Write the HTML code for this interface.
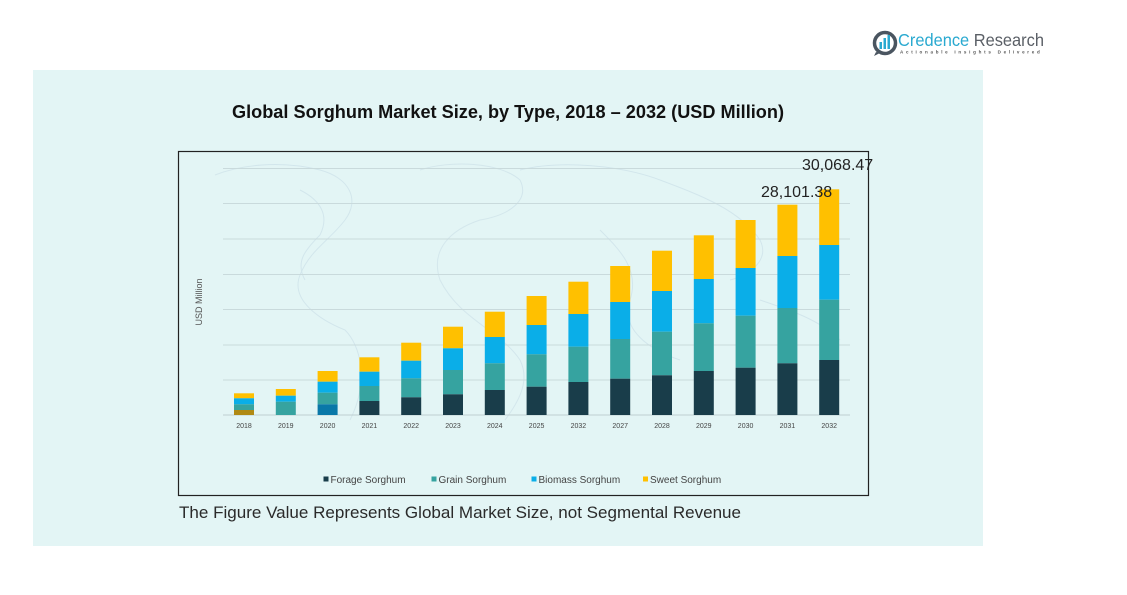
<!DOCTYPE html>
<html><head><meta charset="utf-8"><style>
html,body{margin:0;padding:0;background:#fff;}
svg{display:block;}
</style></head><body>
<svg width="1127" height="595" viewBox="0 0 1127 595" xmlns="http://www.w3.org/2000/svg" font-family="'Liberation Sans', sans-serif">
<rect x="0" y="0" width="1127" height="595" fill="#ffffff"/>
<rect x="33" y="70" width="950" height="476" fill="#e3f5f5"/>
<!-- faint map hints -->
<g fill="none" stroke="#cfe3ea" stroke-width="1" opacity="0.8">
<path d="M215 175 C240 165 280 160 320 170 C350 178 360 200 345 220 C330 240 310 250 300 275 C290 300 320 320 345 330 C360 345 370 380 350 420"/>
<path d="M300 190 C320 200 330 215 320 235 C305 250 295 262 305 280"/>
<path d="M420 170 C450 160 500 162 520 180 C530 200 510 215 480 220 C450 230 430 250 440 280 C460 320 500 330 520 360 C530 380 520 400 505 420"/>
<path d="M520 170 C560 160 620 165 660 180 C700 195 740 210 760 240 C770 260 750 275 730 280"/>
<path d="M600 230 C620 250 640 270 630 300 C620 330 650 350 680 360"/>
<path d="M760 300 C790 310 820 320 840 340"/>
</g>
<!-- title -->
<text x="508" y="118" text-anchor="middle" font-size="18" font-weight="bold" fill="#111" textLength="552" lengthAdjust="spacingAndGlyphs">Global Sorghum Market Size, by Type, 2018 – 2032 (USD Million)</text>
<!-- chart border -->
<rect x="178.5" y="151.5" width="690" height="344" fill="none" stroke="#222" stroke-width="1.2"/>
<!-- gridlines -->
<g stroke="#c9dadc" stroke-width="1">
<line x1="223" y1="168.5" x2="850" y2="168.5"/>
<line x1="223" y1="203.5" x2="850" y2="203.5"/>
<line x1="223" y1="239" x2="850" y2="239"/>
<line x1="223" y1="274.5" x2="850" y2="274.5"/>
<line x1="223" y1="309.5" x2="850" y2="309.5"/>
<line x1="223" y1="345" x2="850" y2="345"/>
<line x1="223" y1="380" x2="850" y2="380"/>
<line x1="223" y1="415" x2="850" y2="415" stroke="#bfcfd1"/>
</g>
<!-- y axis title -->
<text transform="translate(202,302) rotate(-90)" text-anchor="middle" font-size="9" fill="#555">USD Million</text>
<!-- bars -->
<g>
<!-- 2018 -->
<rect x="234" y="393.3" width="20" height="5" fill="#ffc000"/>
<rect x="234" y="398.3" width="20" height="6" fill="#0aaee8"/>
<rect x="234" y="404.3" width="20" height="5.7" fill="#36a3a0"/>
<rect x="234" y="410" width="20" height="5" fill="#b08a14"/>
<!-- 2019 -->
<rect x="275.8" y="389" width="20" height="6.7" fill="#ffc000"/>
<rect x="275.8" y="395.7" width="20" height="6" fill="#0aaee8"/>
<rect x="275.8" y="401.7" width="20" height="13.3" fill="#36a3a0"/>
<!-- 2020 -->
<rect x="317.6" y="371" width="20" height="10.7" fill="#ffc000"/>
<rect x="317.6" y="381.7" width="20" height="11" fill="#0aaee8"/>
<rect x="317.6" y="392.7" width="20" height="11.6" fill="#36a3a0"/>
<rect x="317.6" y="404.3" width="20" height="10.7" fill="#0a78a8"/>
<!-- 2021 -->
<rect x="359.4" y="357.3" width="20" height="14.4" fill="#ffc000"/>
<rect x="359.4" y="371.7" width="20" height="14.3" fill="#0aaee8"/>
<rect x="359.4" y="386" width="20" height="15" fill="#36a3a0"/>
<rect x="359.4" y="401" width="20" height="14" fill="#193d4a"/>
<!-- 2022 -->
<rect x="401.2" y="342.7" width="20" height="18" fill="#ffc000"/>
<rect x="401.2" y="360.7" width="20" height="17.6" fill="#0aaee8"/>
<rect x="401.2" y="378.3" width="20" height="19" fill="#36a3a0"/>
<rect x="401.2" y="397.3" width="20" height="17.7" fill="#193d4a"/>
<!-- 2023 -->
<rect x="443" y="326.7" width="20" height="21.6" fill="#ffc000"/>
<rect x="443" y="348.3" width="20" height="21.7" fill="#0aaee8"/>
<rect x="443" y="370" width="20" height="24.3" fill="#36a3a0"/>
<rect x="443" y="394.3" width="20" height="20.7" fill="#193d4a"/>
<!-- 2024 -->
<rect x="484.8" y="311.7" width="20" height="25.3" fill="#ffc000"/>
<rect x="484.8" y="337" width="20" height="26.3" fill="#0aaee8"/>
<rect x="484.8" y="363.3" width="20" height="26.7" fill="#36a3a0"/>
<rect x="484.8" y="390" width="20" height="25" fill="#193d4a"/>
<!-- 2025 -->
<rect x="526.6" y="296" width="20" height="29" fill="#ffc000"/>
<rect x="526.6" y="325" width="20" height="29.3" fill="#0aaee8"/>
<rect x="526.6" y="354.3" width="20" height="32.4" fill="#36a3a0"/>
<rect x="526.6" y="386.7" width="20" height="28.3" fill="#193d4a"/>
<!-- 2026 -->
<rect x="568.4" y="281.7" width="20" height="32.3" fill="#ffc000"/>
<rect x="568.4" y="314" width="20" height="32.7" fill="#0aaee8"/>
<rect x="568.4" y="346.7" width="20" height="35.3" fill="#36a3a0"/>
<rect x="568.4" y="382" width="20" height="33" fill="#193d4a"/>
<!-- 2027 -->
<rect x="610.2" y="266" width="20" height="36" fill="#ffc000"/>
<rect x="610.2" y="302" width="20" height="37" fill="#0aaee8"/>
<rect x="610.2" y="339" width="20" height="39.7" fill="#36a3a0"/>
<rect x="610.2" y="378.7" width="20" height="36.3" fill="#193d4a"/>
<!-- 2028 -->
<rect x="652" y="250.7" width="20" height="40.3" fill="#ffc000"/>
<rect x="652" y="291" width="20" height="40.7" fill="#0aaee8"/>
<rect x="652" y="331.7" width="20" height="43.6" fill="#36a3a0"/>
<rect x="652" y="375.3" width="20" height="39.7" fill="#193d4a"/>
<!-- 2029 -->
<rect x="693.8" y="235.3" width="20" height="43.7" fill="#ffc000"/>
<rect x="693.8" y="279" width="20" height="44.3" fill="#0aaee8"/>
<rect x="693.8" y="323.3" width="20" height="47.7" fill="#36a3a0"/>
<rect x="693.8" y="371" width="20" height="44" fill="#193d4a"/>
<!-- 2030 -->
<rect x="735.6" y="220" width="20" height="48" fill="#ffc000"/>
<rect x="735.6" y="268" width="20" height="47.7" fill="#0aaee8"/>
<rect x="735.6" y="315.7" width="20" height="52" fill="#36a3a0"/>
<rect x="735.6" y="367.7" width="20" height="47.3" fill="#193d4a"/>
<!-- 2031 -->
<rect x="777.4" y="204.7" width="20" height="51.3" fill="#ffc000"/>
<rect x="777.4" y="256" width="20" height="52" fill="#0aaee8"/>
<rect x="777.4" y="308" width="20" height="55.3" fill="#36a3a0"/>
<rect x="777.4" y="363.3" width="20" height="51.7" fill="#193d4a"/>
<!-- 2032 -->
<rect x="819.2" y="189.3" width="20" height="55.7" fill="#ffc000"/>
<rect x="819.2" y="245" width="20" height="54.7" fill="#0aaee8"/>
<rect x="819.2" y="299.7" width="20" height="60.3" fill="#36a3a0"/>
<rect x="819.2" y="360" width="20" height="55" fill="#193d4a"/>
</g>
<!-- value labels -->
<text x="802" y="170" font-size="16" fill="#222">30,068.47</text>
<text x="761" y="197" font-size="16" fill="#222">28,101.38</text>
<!-- x labels -->
<g font-size="7" fill="#444" text-anchor="middle">
<text x="244" y="428">2018</text>
<text x="285.8" y="428">2019</text>
<text x="327.6" y="428">2020</text>
<text x="369.4" y="428">2021</text>
<text x="411.2" y="428">2022</text>
<text x="453" y="428">2023</text>
<text x="494.8" y="428">2024</text>
<text x="536.6" y="428">2025</text>
<text x="578.4" y="428">2032</text>
<text x="620.2" y="428">2027</text>
<text x="662" y="428">2028</text>
<text x="703.8" y="428">2029</text>
<text x="745.6" y="428">2030</text>
<text x="787.4" y="428">2031</text>
<text x="829.2" y="428">2032</text>
</g>
<!-- legend -->
<g font-size="10" fill="#444">
<rect x="323.5" y="476.5" width="5" height="5" fill="#193d4a"/>
<text x="330.5" y="483">Forage Sorghum</text>
<rect x="431.5" y="476.5" width="5" height="5" fill="#36a3a0"/>
<text x="438.5" y="483">Grain Sorghum</text>
<rect x="531.5" y="476.5" width="5" height="5" fill="#0aaee8"/>
<text x="538.5" y="483">Biomass Sorghum</text>
<rect x="643" y="476.5" width="5" height="5" fill="#ffc000"/>
<text x="650" y="483">Sweet Sorghum</text>
</g>
<!-- footer -->
<text x="179" y="518" font-size="17" fill="#2a2a2a" textLength="562" lengthAdjust="spacingAndGlyphs">The Figure Value Represents Global Market Size, not Segmental Revenue</text>
<!-- logo -->
<g>
<circle cx="885" cy="43" r="10.5" fill="none" stroke="#4a5560" stroke-width="3.5"/>
<path d="M876 52 L874 56 L880 53 Z" fill="#4a5560"/>
<rect x="879.5" y="42" width="2.5" height="7" fill="#29a9d0"/>
<rect x="883.5" y="38" width="2.5" height="11" fill="#29a9d0"/>
<rect x="887.5" y="35" width="2.5" height="14" fill="#29a9d0"/>
<text x="898" y="46" font-size="17.5" textLength="146" lengthAdjust="spacingAndGlyphs"><tspan fill="#29a9d0">Credence</tspan><tspan fill="#5a5f66"> Research</tspan></text>
<text x="900" y="53.5" font-size="4.5" font-weight="bold" fill="#555" letter-spacing="2.2" textLength="142" lengthAdjust="spacing">Actionable Insights Delivered</text>
</g>
</svg>
</body></html>
